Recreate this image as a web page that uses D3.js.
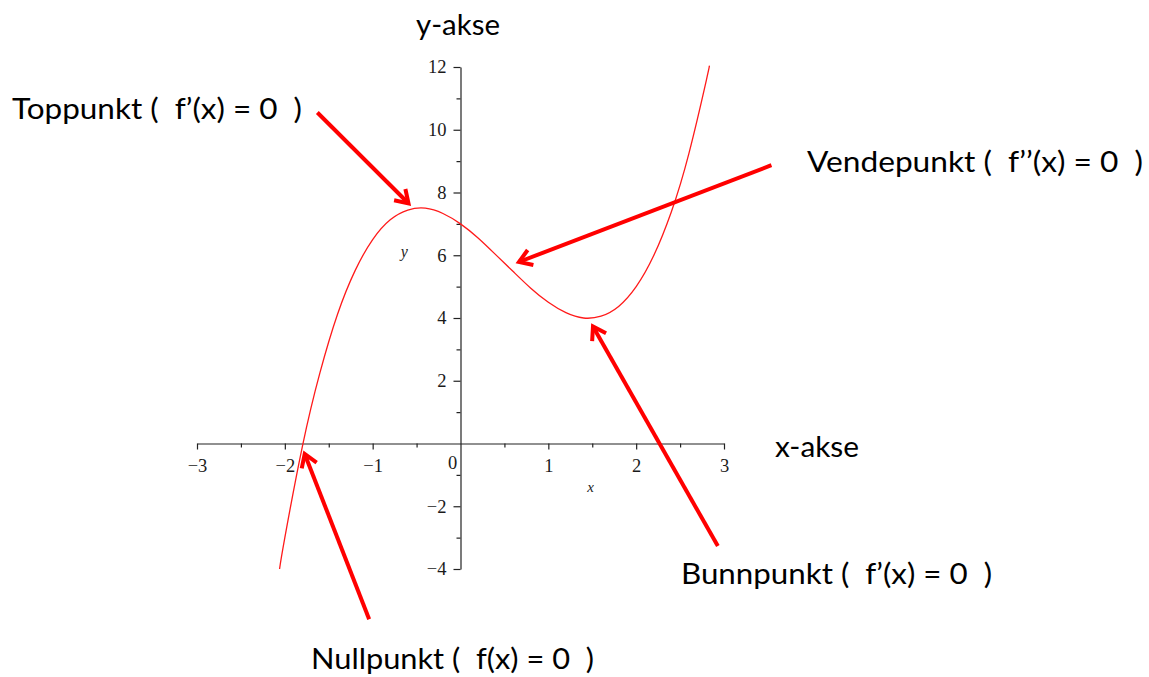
<!DOCTYPE html>
<html>
<head>
<meta charset="utf-8">
<script src="https://cdn.jsdelivr.net/npm/d3@7"></script>
<style>
  html, body { margin: 0; padding: 0; background: #fff; }
  svg { display: block; }
</style>
</head>
<body>
<svg id="chart" width="1149" height="677"></svg>
<script>
// ---------- data ----------
const curveX = [-2.06, -2.0, -1.8, -1.6, -1.4, -1.2, -1.0, -0.8, -0.6, -0.4, -0.2, 0.0,
                 0.2, 0.4, 0.6, 0.8, 1.0, 1.2, 1.4, 1.6, 1.8, 2.0, 2.2, 2.4, 2.6, 2.8, 2.83];
const curveY = [-4.0, -3.0, -0.09, 2.26, 4.12, 5.51, 6.5, 7.13, 7.44, 7.5, 7.33, 7.0,
                 6.55, 6.02, 5.48, 4.95, 4.5, 4.17, 4.0, 4.06, 4.37, 5.0, 5.99, 7.38, 9.24, 11.59, 12.0];

const xTickValues = [-3, -2, -1, 1, 2, 3];
const xMinorTicks = [-2.5, -1.5, -0.5, 0.5, 1.5, 2.5];
const yTickValues = [-4, -2, 2, 4, 6, 8, 10, 12];
const yMinorTicks = [-3, -1, 1, 3, 5, 7, 9, 11];

// annotations: label and arrow (tail -> head) in data units
const noteLabels = ["Toppunkt (  f\u2019(x) = 0  )", "Vendepunkt (  f\u2019\u2019(x) = 0  )",
                    "Bunnpunkt (  f\u2019(x) = 0  )", "Nullpunkt (  f(x) = 0  )"];
const arrowTailX = [-1.63, 3.54, 2.93, -1.04];
const arrowTailY = [10.55, 8.87, -3.27, -5.6];
const arrowHeadX = [-0.58, 0.65, 1.50, -1.78];
const arrowHeadY = [7.62, 5.77, 3.77, -0.29];

const axisTitles = ["y-akse", "x-akse"];

// ---------- layout ----------
const svg = d3.select("#chart");
const x = d3.scaleLinear().domain([-3, 3]).range([197, 724]);
const y = d3.scaleLinear().domain([-4, 12]).range([569, 67]);

const tickFont = "'Liberation Serif', 'Times New Roman', serif";
const noteFont = "Lato, 'Open Sans', sans-serif";

// ---------- axes ----------
svg.append("g").attr("transform", `translate(0,${y(0)})`)
  .call(d3.axisBottom(x).tickValues(xTickValues).tickSize(6).tickPadding(9).tickSizeOuter(0)
        .tickFormat(d => d < 0 ? "\u2212" + Math.abs(d) : d));
const xMinor = svg.append("g").attr("transform", `translate(0,${y(0)})`)
  .call(d3.axisBottom(x).tickValues(xMinorTicks).tickSize(4).tickFormat("").tickSizeOuter(0));
xMinor.select(".domain").remove();

svg.append("g").attr("transform", `translate(${x(0)},0)`)
  .call(d3.axisLeft(y).tickValues(yTickValues).tickSize(7).tickPadding(7).tickSizeOuter(0)
        .tickFormat(d => d < 0 ? "\u2212" + Math.abs(d) : d));
const yMinor = svg.append("g").attr("transform", `translate(${x(0)},0)`)
  .call(d3.axisLeft(y).tickValues(yMinorTicks).tickSize(4).tickFormat("").tickSizeOuter(0));
yMinor.select(".domain").remove();

svg.selectAll(".domain, .tick line").attr("stroke", "#222").attr("stroke-width", 1.2);
svg.selectAll(".tick text").attr("font-family", tickFont).attr("font-size", 18.5).attr("fill", "#1a1a1a");

// origin label
svg.append("text").attr("x", x(0) - 8).attr("y", y(0) + 25)
  .attr("text-anchor", "middle").attr("font-family", tickFont).attr("font-size", 18.5)
  .attr("fill", "#1a1a1a").text("0");

// small italic axis letters
svg.append("text").attr("x", x(-0.64)).attr("y", y(5.95))
  .attr("text-anchor", "middle").attr("font-family", tickFont).attr("font-style", "italic")
  .attr("font-size", 16).attr("fill", "#222").text("y");
svg.append("text").attr("x", x(1.48)).attr("y", y(-1.55))
  .attr("text-anchor", "middle").attr("font-family", tickFont).attr("font-style", "italic")
  .attr("font-size", 15).attr("fill", "#222").text("x");

// ---------- curve ----------
const pts = curveX.map((d, i) => [d, curveY[i]]);
svg.append("path").datum(pts)
  .attr("fill", "none").attr("stroke", "#ff1a1a").attr("stroke-width", 1.3)
  .attr("d", d3.line().x(d => x(d[0])).y(d => y(d[1])).curve(d3.curveNatural));

// ---------- arrows ----------
const wing = 16, ang = 30 * Math.PI / 180;
noteLabels.forEach((lab, i) => {
  const x0 = x(arrowTailX[i]), y0 = y(arrowTailY[i]);
  const x1 = x(arrowHeadX[i]), y1 = y(arrowHeadY[i]);
  const a = Math.atan2(y0 - y1, x0 - x1);
  const g = svg.append("g").attr("stroke", "#ff0000").attr("stroke-width", 4)
    .attr("fill", "none").attr("stroke-linecap", "butt");
  g.append("line").attr("x1", x0).attr("y1", y0).attr("x2", x1 + 2 * Math.cos(a)).attr("y2", y1 + 2 * Math.sin(a));
  g.append("polyline").attr("stroke-linejoin", "miter").attr("points", [
    [x1 + wing * Math.cos(a + ang), y1 + wing * Math.sin(a + ang)],
    [x1 + 1.5 * Math.cos(a), y1 + 1.5 * Math.sin(a)],
    [x1 + wing * Math.cos(a - ang), y1 + wing * Math.sin(a - ang)]
  ].map(p => p.join(",")).join(" "));
});

// ---------- texts ----------
const notePos = [[12, 119, 290], [807, 172, 336], [681, 584, 311], [311, 669, 283]];
noteLabels.forEach((lab, i) => {
  svg.append("text").attr("x", notePos[i][0]).attr("y", notePos[i][1])
    .attr("font-family", noteFont).attr("font-size", 29).attr("fill", "#000")
    .style("white-space", "pre")
    .attr("textLength", notePos[i][2]).attr("lengthAdjust", "spacingAndGlyphs")
    .text(lab);
});
const titlePos = [[416, 35, 84], [775, 457, 84]];
axisTitles.forEach((t, i) => {
  svg.append("text").attr("x", titlePos[i][0]).attr("y", titlePos[i][1])
    .attr("font-family", noteFont).attr("font-size", 29).attr("fill", "#000")
    .attr("textLength", titlePos[i][2]).attr("lengthAdjust", "spacingAndGlyphs")
    .text(t);
});
</script>
</body>
</html>
